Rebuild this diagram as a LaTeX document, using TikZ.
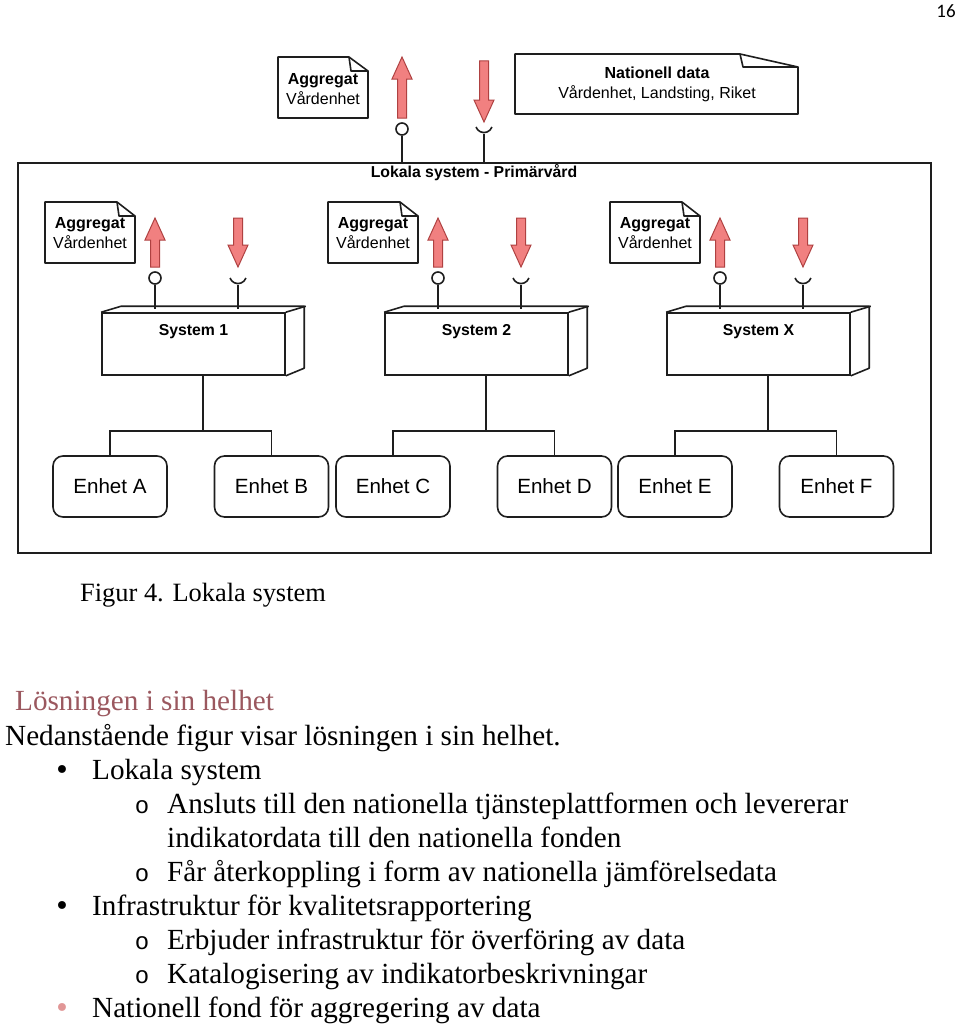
\documentclass[tikz,border=0pt]{standalone}
\usepackage{fontspec}
\setmainfont{Liberation Serif}
\newfontfamily\arial{Liberation Sans}
\newfontfamily\calib{Carlito}
\newfontfamily\cour{Liberation Mono}
\newfontfamily\dejavu{DejaVu Sans}
\definecolor{arrfill}{RGB}{241,128,128}
\definecolor{arrdraw}{RGB}{175,65,65}
\definecolor{lnk}{RGB}{30,30,30}
\definecolor{headcol}{RGB}{155,88,95}
\definecolor{pinkbul}{RGB}{225,150,150}
\newcommand\myuparr[3]{\draw[arrsty] ({#1-4.5},{#3}) -- ({#1-4.5},{#2+22}) -- ({#1-10},{#2+22}) -- ({#1},{#2}) -- ({#1+10},{#2+22}) -- ({#1+4.5},{#2+22}) -- ({#1+4.5},{#3}) -- cycle;}
\newcommand\mydnarr[3]{\draw[arrsty] ({#1-4.5},{#2}) -- ({#1-4.5},{#3-22}) -- ({#1-10},{#3-22}) -- ({#1},{#3}) -- ({#1+10},{#3-22}) -- ({#1+4.5},{#3-22}) -- ({#1+4.5},{#2}) -- cycle;}
\begin{document}
\begin{tikzpicture}[x=1pt,y=-1pt,
  ln/.style={draw=lnk,line width=1.6pt},
  arrsty/.style={fill=arrfill,draw=arrdraw,line width=1pt,line join=miter},
  notetext/.style={inner sep=0pt,align=center,font=\arial\fontsize{16}{20}\selectfont},
  systext/.style={inner sep=0pt,font=\arial\bfseries\fontsize{15.8}{18}\selectfont},
  sysbox/.style={ln,minimum width=183pt,minimum height=62pt,inner sep=0pt},
  enhet/.style={ln,rounded corners=10pt,minimum width=114pt,minimum height=61pt,inner sep=0pt,font=\arial\fontsize{20.6}{24}\selectfont},
  lolli/.style={ln,circle,minimum size=12pt,inner sep=0pt},
  body/.style={inner sep=0pt,anchor=base west,font=\fontsize{29.2}{34}\selectfont},
  bul/.style={inner sep=0pt,anchor=base,font=\dejavu\fontsize{27}{30}\selectfont},
  obul/.style={inner sep=0pt,anchor=base,font=\cour\fontsize{24}{30}\selectfont}]
\useasboundingbox (0,0) rectangle (960,1025);
\fill[white] (0,0) rectangle (960,1025);

% page number
\node[inner sep=0pt,font=\calib\fontsize{19}{22}\selectfont] (pg) at (946,11) {16};

% top level
\draw[ln,line join=round] (278,57) -- (349,57) -- (368,71) -- (368,118) -- (278,118) -- cycle;
\draw[ln,line join=round] (349,57) -- (351,71) -- (368,71);
\node[notetext] (n0) at (323,89) {\bfseries Aggregat\\Vårdenhet};
\myuparr{402}{57}{118}
\mydnarr{484}{61}{122}
\node[lolli] (lp0) at (402,129) {};
\coordinate (sk0) at (484,134);
\draw[ln] (476,127) arc[start angle=160,end angle=20,radius=8.5];
\draw[ln,line join=round] (515,54) -- (740,54) -- (798,67) -- (798,114) -- (515,114) -- cycle;
\draw[ln,line join=round] (740,54) -- (743,67) -- (798,67);
\node[notetext] (nd) at (657,84.5) {\bfseries Nationell data\\Vårdenhet, Landsting, Riket};

% frame
\node[ln,minimum width=913pt,minimum height=390pt,inner sep=0pt] (frame) at (474.5,358) {};
\node[systext] (fl) at (474,173) {Lokala system - Primärvård};
\draw[ln] (lp0.south) -- (lp0.south |- frame.north);
\draw[ln] (sk0) -- (sk0 |- frame.north);

\foreach \dx/\i/\lab/\ea/\eb in {0/1/System 1/A/B, 283/2/System 2/C/D, 565/3/System X/E/F}{
  % note
  \draw[ln,line join=round] (\dx+45,202) -- (\dx+117,202) -- (\dx+135,216) -- (\dx+135,263) -- (\dx+45,263) -- cycle;
  \draw[ln,line join=round] (\dx+117,202) -- (\dx+119,216) -- (\dx+135,216);
  \node[notetext] (n\i) at (\dx+90,233) {\bfseries Aggregat\\Vårdenhet};
  % arrows
  \myuparr{\dx+155}{218}{267}
  \mydnarr{\dx+238}{218}{267}
  % system box
  \node[sysbox] (sys\i) at (\dx+193.5,344) {};
  \draw[ln,line join=round] (sys\i.north west) -- ++(20,-6) -- ++(183,0) -- ++(0,62) -- (sys\i.south east);
  \draw[ln] (sys\i.north east) -- ++(20,-6);
  \node[systext] (st\i) at (\dx+193.5,332) {\lab};
  % lollipop and socket
  \node[lolli] (lp\i) at (\dx+155,278) {};
  \coordinate (sk\i) at (\dx+238,285);
  \draw[ln] (\dx+230,278) arc[start angle=160,end angle=20,radius=8.5];
  \draw[ln] (lp\i.south) -- ([yshift=3pt]lp\i.south |- sys\i.north);
  \draw[ln] (sk\i) -- ([yshift=3pt]sk\i |- sys\i.north);
  % units
  \node[enhet] (e\ea) at (\dx+110,486.5) {Enhet \ea};
  \node[enhet] (e\eb) at (\dx+271.5,486.5) {Enhet \eb};
  \coordinate (sb\i) at (\dx+203,375);
  \coordinate (j\i) at (\dx+203,431);
  \draw[ln] (sb\i) -- (j\i);
  \draw[ln,line join=miter] (e\ea.north) -- (e\ea.north |- j\i) -- (e\eb.north |- j\i) -- (e\eb.north);
}

% caption and text
\node[inner sep=0pt,anchor=base west,font=\fontsize{26.4}{30}\selectfont] (cap) at (80,601) {Figur 4. Lokala system};
\node[body,text=headcol] (h) at (15,710) {Lösningen i sin helhet};
\node[body] (t1) at (5,745) {Nedanstående figur visar lösningen i sin helhet.};
\node[bul] (b1) at (62,779) {•};
\node[body] (t2) at (92,779) {Lokala system};
\node[obul] (o1) at (142,813) {o};
\node[body] (t3) at (167,813) {Ansluts till den nationella tjänsteplattformen och levererar};
\node[body] (t4) at (167,847) {indikatordata till den nationella fonden};
\node[obul] (o2) at (142,881) {o};
\node[body] (t5) at (167,881) {Får återkoppling i form av nationella jämförelsedata};
\node[bul] (b2) at (62,915) {•};
\node[body] (t6) at (92,915) {Infrastruktur för kvalitetsrapportering};
\node[obul] (o3) at (142,949) {o};
\node[body] (t7) at (167,949) {Erbjuder infrastruktur för överföring av data};
\node[obul] (o4) at (142,983) {o};
\node[body] (t8) at (167,983) {Katalogisering av indikatorbeskrivningar};
\node[bul,text=pinkbul] (b3) at (62,1017) {•};
\node[body] (t9) at (92,1017) {Nationell fond för aggregering av data};
\end{tikzpicture}
\end{document}
